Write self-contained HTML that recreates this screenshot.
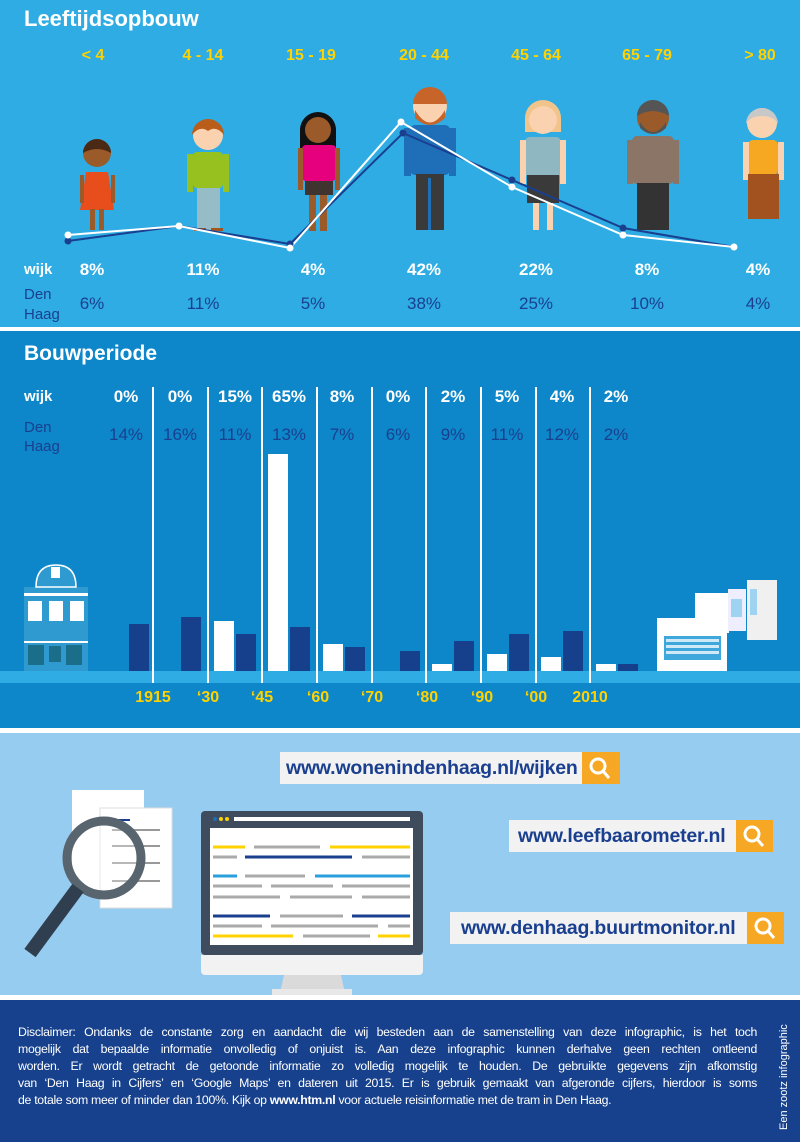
<!DOCTYPE html>
<html><head><meta charset="utf-8"><style>
*{margin:0;padding:0;box-sizing:border-box}
body{width:800px;height:1142px;position:relative;overflow:hidden;font-family:"Liberation Sans",sans-serif;background:#fff}
.a{position:absolute}
.t{position:absolute;white-space:nowrap}
.c{transform:translateX(-50%)}
.dl{text-align:justify;text-align-last:justify;white-space:nowrap;height:17px}
</style></head><body>
<div class="a" style="left:0;top:0;width:800px;height:327px;background:#2EACE3"></div>
<div class="a" style="left:0;top:331px;width:800px;height:397px;background:#0D87C9"></div>
<div class="a" style="left:0;top:733px;width:800px;height:262px;background:#96CCF0"></div>
<div class="a" style="left:0;top:1000px;width:800px;height:142px;background:#17418C"></div>

<div class="t" style="left:24px;top:6px;font-size:22px;font-weight:bold;color:#fff">Leeftijdsopbouw</div>
<div class="t c" style="left:93px;top:47px;font-size:16px;font-weight:bold;color:#FFD200">&lt; 4</div>
<div class="t c" style="left:203px;top:47px;font-size:16px;font-weight:bold;color:#FFD200">4 - 14</div>
<div class="t c" style="left:311px;top:47px;font-size:16px;font-weight:bold;color:#FFD200">15 - 19</div>
<div class="t c" style="left:424px;top:47px;font-size:16px;font-weight:bold;color:#FFD200">20 - 44</div>
<div class="t c" style="left:536px;top:47px;font-size:16px;font-weight:bold;color:#FFD200">45 - 64</div>
<div class="t c" style="left:647px;top:47px;font-size:16px;font-weight:bold;color:#FFD200">65 - 79</div>
<div class="t c" style="left:760px;top:47px;font-size:16px;font-weight:bold;color:#FFD200">&gt; 80</div>

<svg class="a" style="left:0;top:0" width="800" height="327">
<g>
<circle cx="97" cy="153" r="14" fill="#9A5A2A"/><path d="M83 153a14 14 0 0 1 28 0q-14-8-28 0z" fill="#4A2A14"/>
<path d="M86 172h22l6 38h-34z" fill="#E84E1B"/><rect x="90" y="209" width="5" height="21" fill="#9A5A2A"/><rect x="99" y="209" width="5" height="21" fill="#9A5A2A"/>
<rect x="80" y="175" width="4" height="28" fill="#9A5A2A"/><rect x="111" y="175" width="4" height="28" fill="#9A5A2A"/>
</g>
<g>
<circle cx="208" cy="135" r="15" fill="#FAD2B0"/><path d="M192 135a16 16 0 0 1 32 0q-8-10-16-4q-8-6-16 4z" fill="#B85E1A"/>
<rect x="193" y="152" width="30" height="36" rx="4" fill="#96C11F"/><rect x="187" y="154" width="6" height="38" fill="#96C11F"/><rect x="223" y="154" width="6" height="38" fill="#96C11F"/>
<rect x="197" y="188" width="23" height="42" fill="#96BCC7"/><rect x="194" y="228" width="12" height="3" fill="#A4541E"/><rect x="211" y="228" width="12" height="3" fill="#A4541E"/>
</g>
<g>
<path d="M300 130a18 18 0 0 1 36 0v25h-36z" fill="#111"/><circle cx="318" cy="130" r="13" fill="#9A5A2A"/>
<rect x="302" y="145" width="34" height="36" rx="4" fill="#E6007E"/><rect x="305" y="181" width="28" height="14" fill="#3F3430"/>
<rect x="298" y="148" width="5" height="42" fill="#9A5A2A"/><rect x="335" y="148" width="5" height="42" fill="#9A5A2A"/>
<rect x="309" y="195" width="7" height="36" fill="#9A5A2A"/><rect x="320" y="195" width="7" height="36" fill="#9A5A2A"/>
</g>
<g>
<circle cx="430" cy="106" r="17" fill="#FAD2B0"/><path d="M413 104a17 17 0 0 1 34 0z" fill="#C7642A"/><path d="M415 110q15 25 30 0v8q-15 14-30 0z" fill="#C7642A"/>
<rect x="410" y="125" width="40" height="50" rx="5" fill="#1E6FB8"/><rect x="404" y="128" width="7" height="48" fill="#1E6FB8"/><rect x="449" y="128" width="7" height="48" fill="#1E6FB8"/>
<rect x="416" y="174" width="28" height="56" fill="#3A3A3A"/><rect x="428" y="178" width="3" height="52" fill="#1E6FB8"/>
</g>
<g>
<path d="M525 118a18 18 0 0 1 36 0v14h-36z" fill="#F0C48A"/><circle cx="543" cy="120" r="14" fill="#FAD2B0"/>
<rect x="525" y="137" width="36" height="40" rx="5" fill="#8FB7C2"/><rect x="520" y="140" width="6" height="44" fill="#FAD2B0"/><rect x="560" y="140" width="6" height="44" fill="#FAD2B0"/>
<rect x="527" y="175" width="32" height="28" fill="#3A3A3A"/><rect x="533" y="203" width="6" height="27" fill="#FAD2B0"/><rect x="547" y="203" width="6" height="27" fill="#FAD2B0"/>
</g>
<g>
<circle cx="653" cy="118" r="16" fill="#9A5A2A"/><path d="M637 116a16 16 0 0 1 32 0q-16-10-32 0z" fill="#555"/><path d="M640 122q13 20 26 0v6q-13 12-26 0z" fill="#555"/>
<rect x="632" y="136" width="42" height="48" rx="5" fill="#8A7566"/><rect x="627" y="140" width="6" height="44" fill="#8A7566"/><rect x="673" y="140" width="6" height="44" fill="#8A7566"/>
<rect x="637" y="183" width="32" height="47" fill="#333"/>
</g>
<g>
<circle cx="762" cy="123" r="15" fill="#FAD2B0"/><path d="M746 124a16 16 0 0 1 32 0q-4-8-16-8t-16 8z" fill="#C8C8C8"/>
<rect x="748" y="140" width="30" height="35" rx="5" fill="#F7A823"/><rect x="743" y="142" width="6" height="38" fill="#FAD2B0"/><rect x="778" y="142" width="6" height="38" fill="#FAD2B0"/>
<rect x="748" y="174" width="31" height="45" fill="#A2521E"/>
</g>
<polyline points="68,241 179,226 290,244 403,133 512,180 623,228 734,247" fill="none" stroke="#1A3F8F" stroke-width="2"/>
<polyline points="68,235 179,226 290,248 401,122 512,187 623,235 734,247" fill="none" stroke="#fff" stroke-width="2"/>
<g fill="#1A3F8F"><circle cx="68" cy="241" r="3.5"/><circle cx="290" cy="244" r="3.5"/><circle cx="403" cy="133" r="3.5"/><circle cx="512" cy="180" r="3.5"/><circle cx="623" cy="228" r="3.5"/></g>
<g fill="#fff"><circle cx="68" cy="235" r="3.5"/><circle cx="179" cy="226" r="3.5"/><circle cx="290" cy="248" r="3.5"/><circle cx="401" cy="122" r="3.5"/><circle cx="512" cy="187" r="3.5"/><circle cx="623" cy="235" r="3.5"/><circle cx="734" cy="247" r="3.5"/></g>
</svg>

<div class="t" style="left:24px;top:261px;font-size:15px;font-weight:bold;color:#fff">wijk</div>
<div class="t" style="left:24px;top:285px;font-size:15px;line-height:20px;color:#1A3F8F">Den<br>Haag</div>
<div style="position:absolute;left:0;top:260px;font-size:17px;font-weight:bold;color:#fff">
<span class="t c" style="left:92px">8%</span><span class="t c" style="left:203px">11%</span><span class="t c" style="left:313px">4%</span><span class="t c" style="left:424px">42%</span><span class="t c" style="left:536px">22%</span><span class="t c" style="left:647px">8%</span><span class="t c" style="left:758px">4%</span></div>
<div style="position:absolute;left:0;top:294px;font-size:17px;color:#1A3F8F">
<span class="t c" style="left:92px">6%</span><span class="t c" style="left:203px">11%</span><span class="t c" style="left:313px">5%</span><span class="t c" style="left:424px">38%</span><span class="t c" style="left:536px">25%</span><span class="t c" style="left:647px">10%</span><span class="t c" style="left:758px">4%</span></div>

<div class="t" style="left:24px;top:342px;font-size:21px;font-weight:bold;color:#fff">Bouwperiode</div>
<div class="t" style="left:24px;top:388px;font-size:15px;font-weight:bold;color:#fff">wijk</div>
<div class="t" style="left:24px;top:418px;font-size:15px;line-height:19px;color:#1A3F8F">Den<br>Haag</div>
<div style="position:absolute;left:0;top:387px;font-size:17px;font-weight:bold;color:#fff">
<span class="t c" style="left:126px">0%</span><span class="t c" style="left:180px">0%</span><span class="t c" style="left:235px">15%</span><span class="t c" style="left:289px">65%</span><span class="t c" style="left:342px">8%</span><span class="t c" style="left:398px">0%</span><span class="t c" style="left:453px">2%</span><span class="t c" style="left:507px">5%</span><span class="t c" style="left:562px">4%</span><span class="t c" style="left:616px">2%</span></div>
<div style="position:absolute;left:0;top:425px;font-size:17px;color:#1A3F8F">
<span class="t c" style="left:126px">14%</span><span class="t c" style="left:180px">16%</span><span class="t c" style="left:235px">11%</span><span class="t c" style="left:289px">13%</span><span class="t c" style="left:342px">7%</span><span class="t c" style="left:398px">6%</span><span class="t c" style="left:453px">9%</span><span class="t c" style="left:507px">11%</span><span class="t c" style="left:562px">12%</span><span class="t c" style="left:616px">2%</span></div>

<svg class="a" style="left:0;top:331px" width="800" height="397">
<rect x="0" y="340" width="800" height="12" fill="#2EACE3"/>
<g fill="#163F8C">
<rect x="129" y="293" width="20" height="47"/><rect x="181" y="286" width="20" height="54"/><rect x="236" y="303" width="20" height="37"/><rect x="290" y="296" width="20" height="44"/><rect x="345" y="316" width="20" height="24"/><rect x="400" y="320" width="20" height="20"/><rect x="454" y="310" width="20" height="30"/><rect x="509" y="303" width="20" height="37"/><rect x="563" y="300" width="20" height="40"/><rect x="618" y="333" width="20" height="7"/>
</g>
<g fill="#fff">
<rect x="214" y="290" width="20" height="50"/><rect x="268" y="123" width="20" height="217"/><rect x="323" y="313" width="20" height="27"/><rect x="432" y="333" width="20" height="7"/><rect x="487" y="323" width="20" height="17"/><rect x="541" y="326" width="20" height="14"/><rect x="596" y="333" width="20" height="7"/>
</g>
<g stroke="#fff" stroke-width="2">
<line x1="153" y1="56" x2="153" y2="352"/><line x1="208" y1="56" x2="208" y2="352"/><line x1="262" y1="56" x2="262" y2="352"/><line x1="317" y1="56" x2="317" y2="352"/><line x1="372" y1="56" x2="372" y2="352"/><line x1="426" y1="56" x2="426" y2="352"/><line x1="481" y1="56" x2="481" y2="352"/><line x1="536" y1="56" x2="536" y2="352"/><line x1="590" y1="56" x2="590" y2="352"/>
</g>
<path d="M24 256h64v84h-64z" fill="#2E9AD0"/><path d="M36 256q0-22 20-22t20 22z" fill="#2E9AD0" stroke="#fff" stroke-width="1.5"/>
<rect x="24" y="262" width="64" height="3" fill="#fff"/><rect x="24" y="310" width="64" height="2" fill="#fff"/>
<g fill="#fff"><rect x="28" y="270" width="14" height="20"/><rect x="49" y="270" width="14" height="20"/><rect x="70" y="270" width="14" height="20"/><rect x="51" y="236" width="9" height="11"/></g>
<g fill="#1A6E8A"><rect x="28" y="314" width="16" height="20"/><rect x="66" y="314" width="16" height="20"/><rect x="49" y="315" width="12" height="16"/></g>
<rect x="657" y="287" width="70" height="53" fill="#fff"/><rect x="695" y="262" width="34" height="40" fill="#fff"/><rect x="728" y="258" width="18" height="42" fill="#eef"/><rect x="747" y="249" width="30" height="60" fill="#f0f0f0"/>
<rect x="664" y="305" width="57" height="24" fill="#3EA8DC"/><g fill="#cfe9f7"><rect x="666" y="308" width="53" height="3"/><rect x="666" y="314" width="53" height="3"/><rect x="666" y="320" width="53" height="3"/></g>
<rect x="731" y="268" width="11" height="18" fill="#9fd3f2"/><rect x="750" y="258" width="7" height="26" fill="#9fd3f2"/>
</svg>
<div style="position:absolute;left:0;top:689px;font-size:16px;font-weight:bold;color:#FFD200">
<span class="t c" style="left:153px">1915</span><span class="t c" style="left:208px">‘30</span><span class="t c" style="left:262px">‘45</span><span class="t c" style="left:318px">‘60</span><span class="t c" style="left:372px">‘70</span><span class="t c" style="left:427px">‘80</span><span class="t c" style="left:482px">‘90</span><span class="t c" style="left:536px">‘00</span><span class="t c" style="left:590px">2010</span></div>

<svg class="a" style="left:0;top:733px" width="800" height="262">
<rect x="72" y="57" width="72" height="100" fill="#fff"/><rect x="100" y="75" width="72" height="100" fill="#fff" stroke="#ddd"/>
<g stroke="#999" stroke-width="2"><line x1="112" y1="97" x2="160" y2="97"/><line x1="112" y1="113" x2="160" y2="113"/><line x1="112" y1="130" x2="160" y2="130"/><line x1="112" y1="148" x2="160" y2="148"/></g>
<line x1="112" y1="87" x2="130" y2="87" stroke="#1A3F8F" stroke-width="2"/>
<circle cx="104" cy="125" r="37" fill="rgba(255,255,255,0.3)" stroke="#58656E" stroke-width="9"/>
<line x1="78" y1="155" x2="30" y2="220" stroke="#2F3F50" stroke-width="14"/>
<rect x="201" y="78" width="222" height="144" rx="4" fill="#3E4C5E"/><rect x="210" y="95" width="203" height="117" fill="#fff"/>
<rect x="234" y="84" width="176" height="4" fill="#fff"/><circle cx="215" cy="86" r="2" fill="#1E6FB8"/><circle cx="221" cy="86" r="2" fill="#FFD200"/><circle cx="227" cy="86" r="2" fill="#FFD200"/>
<g stroke-width="3">
<line x1="213" y1="114" x2="245" y2="114" stroke="#FFD200"/><line x1="254" y1="114" x2="320" y2="114" stroke="#aaa"/><line x1="330" y1="114" x2="410" y2="114" stroke="#FFD200"/>
<line x1="213" y1="124" x2="237" y2="124" stroke="#aaa"/><line x1="245" y1="124" x2="352" y2="124" stroke="#1A3F8F"/><line x1="362" y1="124" x2="410" y2="124" stroke="#aaa"/>
<line x1="213" y1="143" x2="237" y2="143" stroke="#29A0DC"/><line x1="245" y1="143" x2="305" y2="143" stroke="#aaa"/><line x1="315" y1="143" x2="410" y2="143" stroke="#29A0DC"/>
<line x1="213" y1="153" x2="262" y2="153" stroke="#aaa"/><line x1="271" y1="153" x2="333" y2="153" stroke="#aaa"/><line x1="342" y1="153" x2="410" y2="153" stroke="#aaa"/>
<line x1="213" y1="164" x2="280" y2="164" stroke="#aaa"/><line x1="290" y1="164" x2="352" y2="164" stroke="#aaa"/><line x1="362" y1="164" x2="410" y2="164" stroke="#aaa"/>
<line x1="213" y1="183" x2="270" y2="183" stroke="#1A3F8F"/><line x1="280" y1="183" x2="343" y2="183" stroke="#aaa"/><line x1="352" y1="183" x2="410" y2="183" stroke="#1A3F8F"/>
<line x1="213" y1="193" x2="262" y2="193" stroke="#aaa"/><line x1="271" y1="193" x2="378" y2="193" stroke="#aaa"/><line x1="388" y1="193" x2="410" y2="193" stroke="#aaa"/>
<line x1="213" y1="203" x2="293" y2="203" stroke="#FFD200"/><line x1="303" y1="203" x2="370" y2="203" stroke="#aaa"/><line x1="378" y1="203" x2="410" y2="203" stroke="#FFD200"/>
</g>
<path d="M201 222h222v16a4 4 0 0 1-4 4h-214a4 4 0 0 1-4-4z" fill="#F2F2F2"/>
<path d="M284 242h57l4 18h-65z" fill="#DADADA"/><rect x="272" y="256" width="80" height="6" fill="#E8E8E8"/>
</svg>
<div class="a" style="left:280px;top:752px;width:340px;height:32px;background:#F2F2F2"></div>
<div class="t" style="left:286px;top:757px;font-size:19.5px;font-weight:bold;color:#1A3F8F;letter-spacing:-0.2px">www.wonenindenhaag.nl/wijken</div>
<div class="a" style="left:509px;top:820px;width:264px;height:32px;background:#F2F2F2"></div>
<div class="t" style="left:518px;top:825px;font-size:19.5px;font-weight:bold;color:#1A3F8F;letter-spacing:-0.2px">www.leefbaarometer.nl</div>
<div class="a" style="left:450px;top:912px;width:334px;height:32px;background:#F2F2F2"></div>
<div class="t" style="left:461px;top:917px;font-size:19.5px;font-weight:bold;color:#1A3F8F;letter-spacing:-0.2px">www.denhaag.buurtmonitor.nl</div>
<svg class="a" style="left:0;top:0" width="800" height="1000">
<g><rect x="582" y="752" width="38" height="32" fill="#F6A723"/><circle cx="598" cy="766" r="7" fill="none" stroke="#fff" stroke-width="3"/><line x1="603" y1="771" x2="609" y2="778" stroke="#fff" stroke-width="3"/></g>
<g><rect x="736" y="820" width="37" height="32" fill="#F6A723"/><circle cx="752" cy="834" r="7" fill="none" stroke="#fff" stroke-width="3"/><line x1="757" y1="839" x2="763" y2="846" stroke="#fff" stroke-width="3"/></g>
<g><rect x="747" y="912" width="37" height="32" fill="#F6A723"/><circle cx="763" cy="926" r="7" fill="none" stroke="#fff" stroke-width="3"/><line x1="768" y1="931" x2="774" y2="938" stroke="#fff" stroke-width="3"/></g>
</svg>

<div class="a" style="left:18px;top:1024px;width:739px;font-size:12.3px;line-height:17px;color:#fff;letter-spacing:-0.3px">
<div class="dl">Disclaimer: Ondanks de constante zorg en aandacht die wij besteden aan de samenstelling van deze infographic, is het toch</div>
<div class="dl">mogelijk dat bepaalde informatie onvolledig of onjuist is. Aan deze infographic kunnen derhalve geen rechten ontleend</div>
<div class="dl">worden. Er wordt getracht de getoonde informatie zo volledig mogelijk te houden. De gebruikte gegevens zijn afkomstig</div>
<div class="dl">van ‘Den Haag in Cijfers’ en ‘Google Maps’ en dateren uit 2015. Er is gebruik gemaakt van afgeronde cijfers, hierdoor is soms</div>
<div style="white-space:nowrap">de totale som meer of minder dan 100%. Kijk op <b>www.htm.nl</b> voor actuele reisinformatie met de tram in Den Haag.</div>
</div>
<div class="t" style="left:778px;top:1130px;transform:rotate(-90deg);transform-origin:0 0;font-size:11px;color:#fff">Een zootz infographic</div>
</body></html>
